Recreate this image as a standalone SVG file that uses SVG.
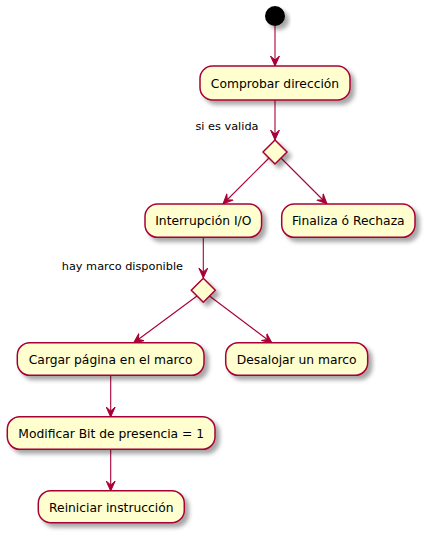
<svg xmlns="http://www.w3.org/2000/svg" width="427" height="536" viewBox="0 0 427 536">
<defs>
<filter id="sh" x="-20%" y="-20%" width="150%" height="160%">
<feDropShadow dx="4" dy="4" stdDeviation="2" flood-color="#000" flood-opacity="0.35"/>
</filter>
<marker id="arr" markerWidth="12" markerHeight="10" refX="10" refY="5" orient="auto" markerUnits="userSpaceOnUse" viewBox="0 0 12 10">
<polygon points="0,0.5 10,5 0,9.5 4,5" fill="#A80036" stroke="#A80036" stroke-width="1"/>
</marker>
</defs>
<style>
.box{fill:#FEFECE;stroke:#A80036;stroke-width:1.5;filter:url(#sh)}
.t{font-family:"DejaVu Sans",sans-serif;font-size:12.3px;fill:#000;text-anchor:middle}
.lbl{font-family:"DejaVu Sans",sans-serif;font-size:11.3px;fill:#000;text-anchor:end}
.c{stroke:#A80036;stroke-width:1.1;fill:none;marker-end:url(#arr)}
</style>
<g id="connectors">
<line class="c" x1="275" y1="26" x2="275" y2="66"/>
<line class="c" x1="275" y1="100" x2="275" y2="140"/>
<line class="c" x1="269" y1="158" x2="223" y2="204"/>
<line class="c" x1="281" y1="158" x2="327" y2="204"/>
<line class="c" x1="203.3" y1="237" x2="203.3" y2="278"/>
<line class="c" x1="197" y1="296" x2="133.5" y2="343"/>
<line class="c" x1="209.5" y1="296" x2="272" y2="343"/>
<line class="c" x1="110.7" y1="375" x2="110.7" y2="417"/>
<line class="c" x1="110.7" y1="449" x2="110.7" y2="491"/>
</g>
<g id="start"><circle cx="275" cy="16" r="10" fill="#000" filter="url(#sh)"/></g>
<g id="comprobar"><rect class="box" x="200" y="66" width="150" height="34" rx="12.5"/><text class="t" x="275" y="87.5">Comprobar dirección</text></g>
<g id="decision1"><polygon class="box" points="275,140 287,152 275,164 263,152"/><text class="lbl" x="258.5" y="129.5">si es valida</text></g>
<g id="interrupcion"><rect class="box" x="145" y="204" width="116.6" height="33.3" rx="12.5"/><text class="t" x="203.3" y="225">Interrupción I/O</text></g>
<g id="finaliza"><rect class="box" x="281.7" y="204" width="133.3" height="33.3" rx="12.5"/><text class="t" x="348.3" y="225">Finaliza ó Rechaza</text></g>
<g id="decision2"><polygon class="box" points="203.3,278.3 215.3,290.3 203.3,302.3 191.3,290.3"/><text class="lbl" x="183" y="270">hay marco disponible</text></g>
<g id="cargar"><rect class="box" x="17.3" y="342.7" width="186.7" height="32.6" rx="12.5"/><text class="t" x="110.7" y="363.5">Cargar página en el marco</text></g>
<g id="desalojar"><rect class="box" x="225.7" y="342.7" width="142" height="32.6" rx="12.5"/><text class="t" x="296.7" y="363.5">Desalojar un marco</text></g>
<g id="modificar"><rect class="box" x="7.3" y="416.7" width="207.7" height="32.6" rx="12.5"/><text class="t" x="111.2" y="437.5">Modificar Bit de presencia = 1</text></g>
<g id="reiniciar"><rect class="box" x="38.3" y="490.7" width="146" height="32" rx="12.5"/><text class="t" x="111.3" y="511.5">Reiniciar instrucción</text></g>
</svg>
